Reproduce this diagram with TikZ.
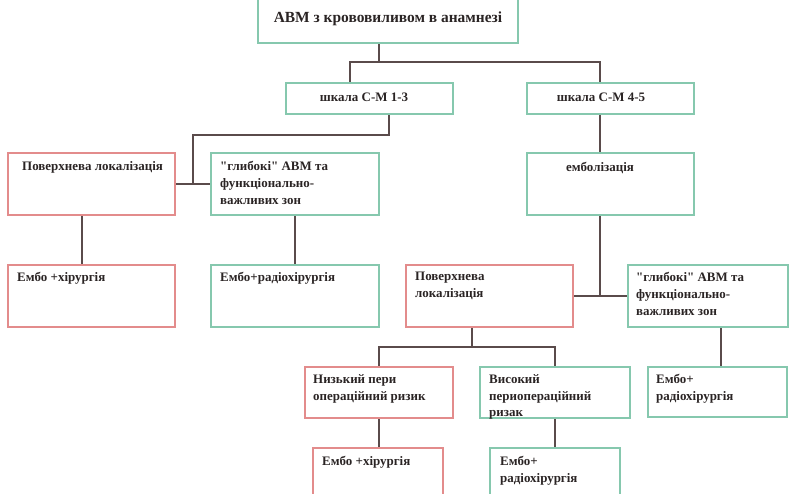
\documentclass[tikz,border=0pt]{standalone}
\usepackage{fontspec}
\setmainfont{Liberation Serif}
\usetikzlibrary{positioning,calc}
\definecolor{boxred}{HTML}{E38C8C}
\definecolor{boxgreen}{HTML}{86C8AE}
\definecolor{linkgray}{HTML}{5A4B4B}
\definecolor{inktext}{HTML}{2A2424}
\tikzset{
  box/.style={line width=2.2bp, inner sep=0pt, fill=white},
  boxtext/.style={anchor=north west, inner sep=0pt, align=left, text=inktext,
    font=\fontsize{13}{17}\selectfont\bfseries},
  midtext/.style={inner sep=0pt, text=inktext, font=\fontsize{13}{17}\selectfont\bfseries},
  link/.style={draw=linkgray, line width=1.6bp}
}
\begin{document}
\begin{tikzpicture}[x=1bp,y=-1bp]
  \fill[white] (0,0) rectangle (790,494);
  \useasboundingbox (0,0) rectangle (790,494);
  \foreach \n/\clr/\x/\y/\w/\h in {top/green/388/19.5/260/47,
      sm13/green/369.5/98.5/167/31, sm45/green/610.5/98.5/167/31,
      surf1/red/91.5/184/167/62, deep1/green/295/184/168/62,
      emb/green/610.5/184/167/62,
      surg1/red/91.5/296/167/62, radio1/green/295/296/168/62,
      surf2/red/489.5/296/167/62, deep2/green/708/296/160/62,
      low/red/379/392.5/148/51, high/green/555/392.5/150/51,
      radio2/green/717.5/392/139/50,
      surg2/red/378/478/130/60, radio3/green/555/478/130/60} {
    \node[box, draw=box\clr, minimum width=\w bp, minimum height=\h bp] (\n) at (\x,\y) {};
  }
  \node[midtext, font=\fontsize{15.5}{18}\selectfont\bfseries] (topt) at (388,19) {АВМ з крововиливом в анамнезі};
  \node[midtext] (sm13t) at (364,97) {шкала С-М 1-3};
  \node[midtext] (sm45t) at (601,97) {шкала С-М 4-5};
  \node[midtext] (embt) at (600,168) {емболізація};
  \node[boxtext] (surf1t) at (22,161) {Поверхнева локалізація};
  \node[boxtext] (deep1t) at (220,161) {\textquotedbl глибокі\textquotedbl{} АВМ та\\функціонально-\\важливих зон};
  \node[boxtext] (surg1t) at (17,272) {Ембо +хірургія};
  \node[boxtext] (radio1t) at (220,272) {Ембо+радіохірургія};
  \node[boxtext] (surf2t) at (415,272) {Поверхнева\\локалізація};
  \node[boxtext] (deep2t) at (636,272) {\textquotedbl глибокі\textquotedbl{} АВМ та\\функціонально-\\важливих зон};
  \node[boxtext] (lowt) at (313,374) {Низький пери\\операційний ризик};
  \node[boxtext] (hight) at (489,374) {Високий\\периопераційний\\ризак};
  \node[boxtext] (radio2t) at (656,374) {Ембо+\\радіохірургія};
  \node[boxtext] (surg2t) at (322,456) {Ембо +хірургія};
  \node[boxtext] (radio3t) at (500,456) {Ембо+\\радіохірургія};
  \coordinate (j1) at (379,62);
  \draw[link] (top.south -| j1) -- (j1);
  \draw[link] ([xshift=-19.5bp]sm13.north) |- (j1);
  \draw[link] ([xshift=-10.5bp]sm45.north) |- (j1);
  \coordinate (j2) at (193,184);
  \draw[link] (surf1.east) -- (deep1.west);
  \draw[link] ([xshift=19.5bp]sm13.south) -- ++(0,20) -| (j2);
  \draw[link] ([xshift=-10.5bp]sm45.south) -- ([xshift=-10.5bp]emb.north);
  \draw[link] ([xshift=-9.5bp]surf1.south) -- ([xshift=-9.5bp]surg1.north);
  \draw[link] (deep1.south) -- (radio1.north);
  \draw[link] (surf2.east) -- (deep2.west);
  \draw[link] ([xshift=-10.5bp]emb.south) -- ([xshift=-10.5bp]emb.south |- surf2.east);
  \draw[link] ([xshift=-17.5bp]surf2.south) -- ++(0,19) coordinate (j3);
  \draw[link] (low.north) |- (j3) -| (high.north);
  \draw[link] ([xshift=13bp]deep2.south) -- ([xshift=13bp]deep2.south |- radio2.north);
  \draw[link] (low.south) -- (low.south |- surg2.north);
  \draw[link] (high.south) -- (high.south |- radio3.north);
\end{tikzpicture}
\end{document}
